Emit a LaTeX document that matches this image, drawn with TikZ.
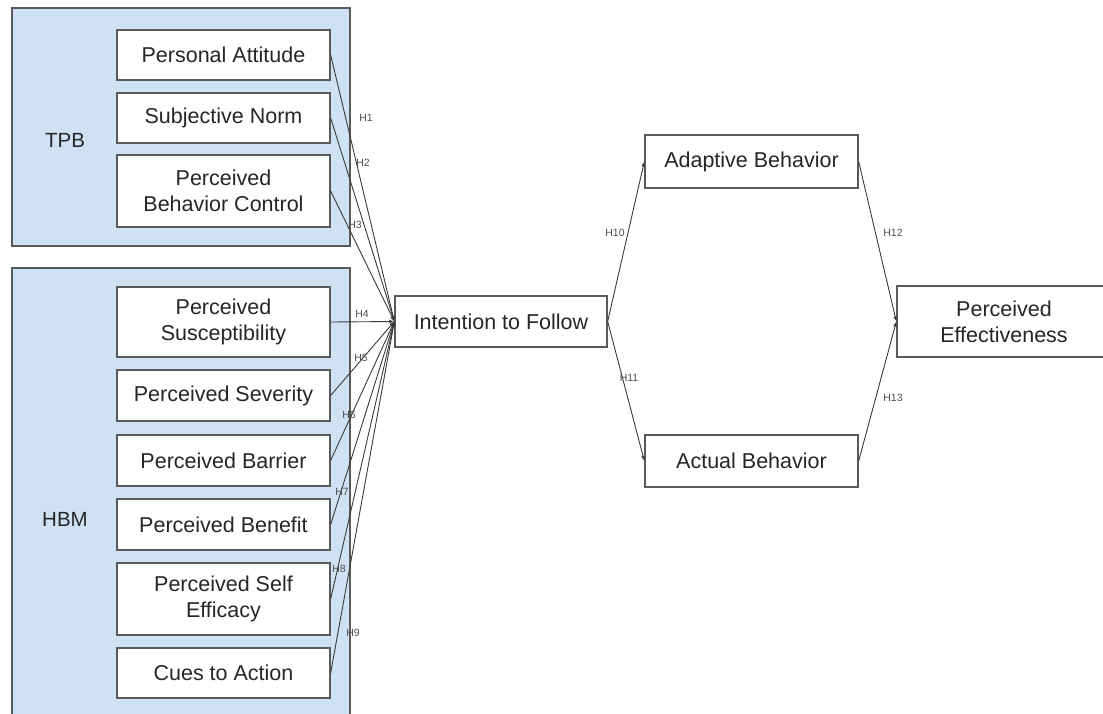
\documentclass[tikz,border=0pt]{standalone}
\usepackage{fontspec}
\setmainfont{Liberation Sans}
\usetikzlibrary{arrows.meta}
\definecolor{grpfill}{HTML}{CFE2F3}
\definecolor{grpline}{HTML}{5A5A5A}
\definecolor{lnc}{HTML}{3A3A3A}
\tikzset{
  grp/.style={draw=grpline, fill=grpfill, line width=1.2pt},
  box/.style={draw=grpline, fill=white, line width=1.3pt, inner sep=0pt, align=center,
     font=\fontsize{21.5}{26}\selectfont, text=black!85},
  grplabel/.style={font=\fontsize{20.5}{24}\selectfont, text=black!85},
  hyp/.style={font=\fontsize{10.5}{12}\selectfont, text=black!70, inner sep=0pt},
  conn/.style={draw=lnc, line width=0.9pt, -{Latex[length=5pt,width=4pt]}},
}
\begin{document}
\begin{tikzpicture}[x=1pt,y=-1pt]
\useasboundingbox (0,0) rectangle (1103,713);
% groups
\draw[grp] (12,8) rectangle (350,246);
\draw[grp] (12,268) rectangle (350,720);
\node[grplabel] (tpb) at (65,140) {TPB};
\node[grplabel] (hbm) at (65,519) {HBM};
% boxes by corners
\newcommand{\bx}[6]{\node[box, minimum width=#3-#1, minimum height=#4-#2] (#5) at ({(#1+#3)/2},{(#2+#4)/2}) {#6};}
\bx{117}{30}{330}{80}{pa}{Personal Attitude}
\bx{117}{93}{330}{143}{sn}{Subjective Norm}
\bx{117}{155}{330}{227}{pbc}{Perceived\\Behavior Control}
\bx{117}{287}{330}{357}{psu}{Perceived\\Susceptibility}
\bx{117}{370}{330}{421}{psv}{Perceived Severity}
\bx{117}{435}{330}{486}{pba}{Perceived Barrier}
\bx{117}{499}{330}{550}{pbe}{Perceived Benefit}
\bx{117}{563}{330}{635}{pse}{Perceived Self\\Efficacy}
\bx{117}{648}{330}{698}{cta}{Cues to Action}
\bx{395}{296}{607}{347}{itf}{Intention to Follow}
\bx{645}{135}{858}{188}{ab}{Adaptive Behavior}
\bx{645}{435}{858}{487}{acb}{Actual Behavior}
\bx{897}{286}{1111}{357}{pe}{Perceived\\Effectiveness}
% connectors
\foreach \s in {pa,sn,pbc,psu,psv,pba,pbe,pse,cta}{
  \draw[conn] (\s.east) -- (itf.west);
}
\draw[conn] (itf.east) -- (ab.west);
\draw[conn] (itf.east) -- (acb.west);
\draw[conn] (ab.east) -- (pe.west);
\draw[conn] (acb.east) -- (pe.west);
% hypothesis labels
\node[hyp] (h1) at (366,118) {H1};
\node[hyp] (h2) at (363,163) {H2};
\node[hyp] (h3) at (355,225) {H3};
\node[hyp] (h4) at (362,314) {H4};
\node[hyp] (h5) at (361,358) {H5};
\node[hyp] (h6) at (349,415) {H6};
\node[hyp] (h7) at (342,492) {H7};
\node[hyp] (h8) at (339,569) {H8};
\node[hyp] (h9) at (353,633) {H9};
\node[hyp] (h10) at (615,233) {H10};
\node[hyp] (h11) at (629,378) {H11};
\node[hyp] (h12) at (893,233) {H12};
\node[hyp] (h13) at (893,398) {H13};
\end{tikzpicture}
\end{document}
